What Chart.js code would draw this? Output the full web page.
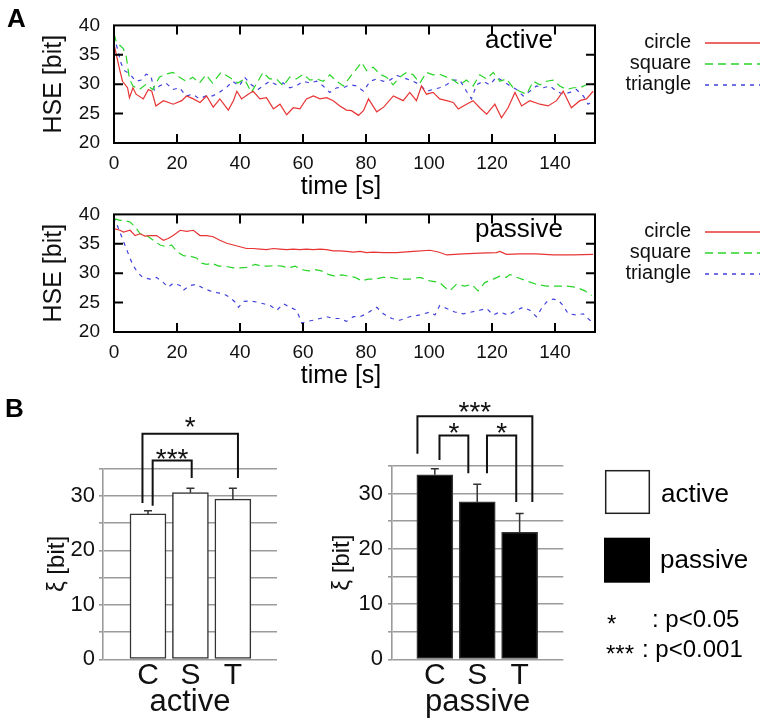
<!DOCTYPE html>
<html>
<head>
<meta charset="utf-8">
<script src="https://cdn.jsdelivr.net/npm/chart.js"></script>
<style>
  body { margin: 0; background: #fff; }
  #wrap { position: relative; width: 766px; height: 722px; overflow: hidden; }
  canvas { position: absolute; }
</style>
</head>
<body>
<div id="wrap">
  <canvas id="activeLine" width="766" height="200" style="left:0;top:0;width:766px;height:200px"></canvas>
  <canvas id="passiveLine" width="766" height="200" style="left:0;top:189px;width:766px;height:200px"></canvas>
  <canvas id="activeBar" width="300" height="342" style="left:0;top:380px;width:300px;height:342px"></canvas>
  <canvas id="passiveBar" width="466" height="342" style="left:300px;top:380px;width:466px;height:342px"></canvas>
</div>
<script>
  const FONT = '"Liberation Sans", Arial, sans-serif';
  Chart.defaults.font.family = FONT;
  Chart.defaults.color = '#111';

  // ---- panel A: HSE over time, [time s, HSE bit] ----
  const seriesNames = ['circle', 'square', 'triangle'];

  const activeCircle = [[0,36.8],[1.7,32.7],[2.7,30.5],[4.3,29.4],[4.9,27.7],[6,29.4],[7,28.3],[9.3,27.5],[10.9,29.1],[12,28.8],[13.3,26.3],[15.7,27.2],[18.8,26.6],[21.5,27.2],[23,28.0],[25.2,27.5],[27.3,26.9],[29.4,28.0],[31.5,26.1],[33.6,27.5],[36.3,25.6],[37.9,27.2],[39,28.8],[40.5,27.5],[42.6,28.3],[44.2,28.8],[46.3,27.5],[48.4,27.7],[50.6,25.8],[52.7,26.6],[54.8,24.8],[56.9,26.0],[59,25.8],[61.1,27.5],[63.3,28.0],[65.4,27.5],[67.5,27.7],[69.6,27.2],[71.7,26.3],[73.8,25.6],[75.4,25.5],[77.6,24.7],[79.2,25.5],[80.8,27.5],[83.4,25.3],[85.6,26.1],[88.7,28.0],[91.8,27.2],[93.9,28.6],[96,27.2],[97.6,29.7],[99.2,28.3],[101.3,28.6],[103.4,27.5],[105.6,27.2],[107.7,26.9],[109.3,25.8],[111.9,26.6],[114,27.2],[116.1,26.0],[118.3,24.9],[120.9,26.6],[123,24.3],[125.1,26.0],[127.3,28.6],[129.4,26.3],[132,27.2],[135.2,26.6],[137.8,26.3],[140.5,27.2],[142.6,28.8],[145.2,26.0],[147.9,27.2],[150,27.5],[152.1,28.8]];
  const activeSquare = [[0,38.6],[0.8,37.1],[2.9,36.1],[3.9,34.7],[4.9,30.9],[6,29.7],[8.1,29.1],[10.2,30.0],[12.3,29.1],[14.4,31.2],[16.5,31.7],[18.7,32.0],[20.8,31.2],[22.9,30.5],[25,31.2],[27.1,30.2],[29.2,31.6],[31.3,30.2],[34,32.0],[36.6,31.2],[39.3,30.2],[41.4,30.9],[43.6,28.6],[45.7,30.5],[47.3,32.0],[49.4,30.9],[51.6,30.9],[53.7,29.7],[55.8,31.2],[57.9,30.9],[60.1,31.7],[62.2,30.7],[64.3,30.9],[66.4,30.5],[68.5,31.6],[70.7,30.5],[72.8,29.7],[74.9,31.2],[77,32.6],[78.6,33.7],[80.2,32.3],[82.3,32.9],[84.4,31.7],[86.5,31.2],[88.6,29.9],[90.7,31.2],[92.9,32.0],[95,31.6],[97.1,30.2],[99.2,32.0],[101.3,31.6],[103.4,31.7],[105.6,31.2],[107.7,30.7],[109.8,29.9],[111.9,30.7],[114,29.7],[116.1,31.6],[118.3,30.9],[120.4,32.0],[122.5,30.5],[124.6,30.9],[126.7,29.4],[128.8,28.8],[131,28.3],[133.1,30.5],[135.2,29.9],[137.3,30.5],[139.4,30.7],[141.5,29.7],[143.7,29.1],[145.8,29.4],[147.9,29.4],[150,29.9],[152.1,30.2]];
  const activeTriangle = [[0,38.2],[1.2,35.8],[2.2,33.6],[3.3,32.3],[4.9,31.8],[7,30.5],[8.6,30.7],[10.2,31.7],[11.7,31.4],[12.8,29.0],[14.4,29.7],[16.5,30.2],[18.7,29.1],[20.8,29.4],[22.9,28.0],[25,28.3],[27.1,27.5],[29.2,28.0],[31.3,28.0],[33.4,28.6],[35.6,29.4],[37.7,30.5],[39.8,29.7],[41.4,31.2],[43.6,29.9],[45.7,29.1],[47.3,29.7],[49.4,30.5],[51.6,29.9],[53.7,30.2],[55.8,29.4],[57.9,29.7],[60.1,30.5],[62.2,30.2],[64.3,30.5],[66.4,29.7],[68.5,28.6],[70.7,29.4],[72.8,29.4],[74.9,29.9],[77,29.7],[79.2,28.8],[81.3,30.5],[83.4,30.9],[85.5,30.5],[87.6,30.7],[89.8,31.5],[92.9,30.9],[95,30.5],[97.1,29.9],[99.2,28.8],[101.3,29.1],[103.4,29.4],[105.6,29.9],[107.7,30.7],[109.8,30.7],[111.9,28.8],[113.5,27.5],[115.1,29.9],[117.2,30.5],[119.3,29.9],[121.4,31.2],[123.6,30.5],[125.7,29.7],[127.8,29.1],[129.9,28.0],[132,28.8],[134.1,29.7],[136.3,29.4],[138.4,29.7],[140.5,28.8],[142.6,28.3],[144.7,28.6],[146.8,29.1],[149,28.0],[150.5,26.6],[152.1,27.2]];

  const passiveCircle = [[0,37.6],[1.9,37.3],[3,37.0],[5.1,37.3],[6.7,36.4],[8.3,36.7],[9.8,36.3],[11.4,36.4],[13.5,36.4],[15.7,35.6],[17.2,35.9],[18.8,36.4],[21,37.3],[23.1,37.1],[25.2,37.3],[27.3,36.4],[29.4,36.4],[31.5,36.2],[33.6,35.6],[35.8,35.1],[37.9,34.8],[40,34.5],[42.1,34.2],[44.2,34.2],[46.3,34.1],[48.4,34.0],[50.6,34.2],[52.7,34.1],[54.8,34.0],[56.9,34.1],[59,34.0],[61.1,34.1],[63.3,34.0],[65.4,34.1],[67.5,34.0],[69.6,33.8],[71.7,33.8],[73.8,33.7],[76,33.6],[78.1,33.7],[80.2,33.5],[82.3,33.6],[85.5,33.5],[89.7,33.5],[95,33.7],[100.3,33.9],[103,33.6],[105.6,33.1],[110.9,33.3],[116.1,33.4],[121.4,33.5],[122.5,33.7],[124.6,33.2],[128.8,33.3],[134.1,33.3],[139.4,33.1],[145.8,33.1],[152.1,33.2]];
  const passiveSquare = [[0,39.3],[1.9,39.0],[3,39.0],[5.1,38.7],[6.7,37.9],[8.3,36.7],[10.4,36.4],[12.5,35.6],[14.6,34.8],[16.7,34.5],[18.3,34.8],[19.9,33.7],[22,33.0],[24.1,32.9],[26.2,32.6],[27.8,31.7],[29.4,31.5],[31.1,31.7],[33.2,31.2],[35.2,31.2],[37.9,30.9],[40,30.9],[42.1,31.0],[44.8,31.5],[46.9,31.2],[49,31.2],[51.1,31.3],[53.3,31.2],[55.4,30.9],[57.5,31.2],[59.6,30.6],[61.7,30.4],[63.8,30.6],[65.9,30.4],[68,29.8],[70.1,29.5],[72.3,29.7],[74.4,29.5],[76.5,29.3],[78.6,28.7],[80.7,29.0],[82.8,29.0],[85.4,29.3],[87.6,29.3],[90.7,29.0],[93.9,29.0],[97.1,29.3],[100.3,28.7],[103.4,28.4],[105,27.6],[106.6,27.0],[108.7,28.1],[111.4,27.8],[113.5,28.1],[115.6,27.0],[117.7,28.4],[120.4,29.0],[122.5,29.5],[124.6,29.3],[125.7,29.8],[127.8,29.3],[131,28.7],[134.1,28.1],[137.3,27.8],[140.5,27.8],[143.7,27.8],[146.8,27.6],[149.5,27.0],[151.6,26.2]];
  const passiveTriangle = [[0,39.6],[1.2,37.9],[2.8,35.7],[4.4,33.5],[5.9,31.5],[7.5,30.1],[9.1,29.3],[11.4,29.0],[13.5,29.3],[15.7,28.4],[17.2,27.6],[18.8,28.3],[21,27.9],[22,27.1],[24.1,27.9],[26.2,28.1],[28.4,27.4],[30.5,27.0],[32.6,26.7],[34.7,26.5],[36.8,25.9],[38.4,25.1],[39.5,24.2],[41.1,25.2],[43.2,25.3],[45.3,25.1],[47.5,24.8],[49.6,24.5],[51.7,23.7],[53.8,24.8],[55.9,24.2],[58,23.7],[59.6,21.5],[61.2,21.8],[63.3,22.0],[65.4,22.3],[67.5,22.6],[69.6,22.3],[71.7,22.3],[73.8,21.8],[76,22.6],[78.1,22.6],[80.2,23.1],[81.8,23.7],[83.4,24.2],[85.5,23.1],[88.2,22.3],[90.7,22.0],[93.9,22.6],[97.1,22.9],[100.3,23.4],[101.9,22.9],[103.4,24.5],[105.6,24.0],[108.2,23.4],[110.9,23.1],[113.5,23.4],[116.1,23.7],[118.3,24.0],[120.4,22.9],[122.5,23.4],[125.1,22.9],[127.8,23.7],[129.9,24.2],[132,23.7],[134.1,22.6],[135.7,24.0],[137.3,25.1],[139.4,25.6],[141,25.4],[142.6,24.5],[144.2,23.1],[146.8,22.9],[149,23.1],[150.5,22.3],[152.1,21.5]];

  // ---- panel B: mean xi with upper error, per shape ----
  const barCats = ['C', 'S', 'T'];
  const groupNames = ['active', 'passive'];
  const activeMean = [26.7, 30.6, 29.4];
  const activeErr = [0.6, 0.8, 2.0];
  const passiveMean = [33.4, 28.5, 23.0];
  const passiveErr = [1.1, 3.2, 3.4];
  // significance brackets: [from, to, top, leftEnd, rightEnd, labelY, label]
  const activeSig = [
    [0.11, 1.03, 36.5, 28.2, 33.3, 38.0, '***'],
    [-0.13, 2.12, 41.4, 28.7, 33.3, 44.0, '*']
  ];
  const passiveSig = [
    [-0.41, 2.30, 44.0, 37.2, 28.5, 46.0, '***'],
    [0.11, 0.79, 40.5, 36.1, 33.7, 42.3, '*'],
    [1.23, 1.92, 40.5, 33.7, 28.5, 42.3, '*']
  ];

  const lineColors = ['rgb(232,52,52)', 'rgb(40,212,40)', 'rgb(64,64,222)'];
  const lineDashes = [[], [8, 5], [4, 5]];

  const lineFrame = {
    id: 'lineFrame',
    afterDraw(chart, args, opts) {
      const { ctx, chartArea: a, scales: { x, y } } = chart;
      ctx.save();
      ctx.strokeStyle = '#000';
      ctx.lineWidth = 2;
      ctx.strokeRect(a.left, a.top, a.width, a.height);
      ctx.beginPath();
      x.ticks.forEach(t => {
        if (t.value <= x.min || t.value >= x.max) return;
        const px = x.getPixelForValue(t.value);
        ctx.moveTo(px, a.bottom); ctx.lineTo(px, a.bottom - 9);
        ctx.moveTo(px, a.top); ctx.lineTo(px, a.top + 9);
      });
      y.ticks.forEach(t => {
        if (t.value <= y.min || t.value >= y.max) return;
        const py = y.getPixelForValue(t.value);
        ctx.moveTo(a.left, py); ctx.lineTo(a.left + 9, py);
        ctx.moveTo(a.right, py); ctx.lineTo(a.right - 9, py);
      });
      ctx.stroke();

      ctx.fillStyle = '#000';
      ctx.textAlign = 'center';
      ctx.textBaseline = 'alphabetic';
      ctx.font = '26px ' + FONT;
      ctx.fillText(opts.tag, 519, 48);
      ctx.textBaseline = 'middle';
      ctx.font = '25px ' + FONT;
      ctx.fillText('time [s]', 341, 187);

      ctx.font = '20px ' + FONT;
      ctx.textAlign = 'right';
      chart.data.datasets.forEach((ds, i) => {
        const yy = Math.round(42 + i * 20.8);
        ctx.fillStyle = '#111';
        ctx.fillText(ds.label, 691, yy);
        ctx.strokeStyle = ds.borderColor;
        ctx.lineWidth = 1.4;
        ctx.setLineDash(ds.borderDash);
        ctx.beginPath();
        ctx.moveTo(705, yy + 1); ctx.lineTo(760, yy + 1);
        ctx.stroke();
      });
      ctx.setLineDash([]);
      if (opts.letter) {
        ctx.fillStyle = '#000';
        ctx.textAlign = 'left';
        ctx.textBaseline = 'alphabetic';
        ctx.font = 'bold 26px ' + FONT;
        ctx.fillText(opts.letter, 7, 27);
      }
      ctx.restore();
    }
  };

  function lineChart(id, series, tag, letter) {
    return new Chart(document.getElementById(id), {
      type: 'line',
      data: {
        datasets: series.map((s, i) => ({
          label: seriesNames[i],
          data: s.map(p => ({ x: p[0], y: p[1] })),
          borderColor: lineColors[i],
          borderDash: lineDashes[i],
          borderWidth: 1.2,
          pointRadius: 0,
          fill: false,
          tension: 0
        }))
      },
      options: {
        responsive: false,
        animation: false,
        layout: { padding: { top: 23, right: 171, left: 0, bottom: 0 } },
        plugins: {
          legend: { display: false },
          tooltip: { enabled: false },
          lineFrame: { tag: tag, letter: letter }
        },
        scales: {
          x: {
            type: 'linear', min: 0, max: 152.7,
            grid: { display: false, drawTicks: false }, border: { display: false },
            ticks: { stepSize: 20, includeBounds: false, font: { size: 19 }, padding: 9, maxRotation: 0, autoSkip: false },
            afterFit: s => { s.height = 57; }
          },
          y: {
            min: 20, max: 40,
            grid: { display: false, drawTicks: false }, border: { display: false },
            ticks: { stepSize: 5, font: { size: 19 }, padding: 14 },
            title: { display: true, text: 'HSE [bit]', font: { size: 25 }, padding: { top: 39, bottom: 0 } },
            afterFit: s => { s.width = 114; }
          }
        }
      },
      plugins: [lineFrame]
    });
  }

  lineChart('activeLine', [activeCircle, activeSquare, activeTriangle], 'active', 'A');
  lineChart('passiveLine', [passiveCircle, passiveSquare, passiveTriangle], 'passive', null);

  const barExtras = {
    id: 'barExtras',
    afterDatasetsDraw(chart, args, opts) {
      const { ctx, scales: { x, y } } = chart;
      const ds = chart.data.datasets[0];
      ctx.save();
      ctx.strokeStyle = '#333';
      ctx.lineWidth = 1.5;
      ds.data.forEach((d, i) => {
        const px = x.getPixelForValue(d.x);
        const y0 = y.getPixelForValue(d.y);
        const y1 = y.getPixelForValue(d.y + ds.errorBars[i]);
        ctx.beginPath();
        ctx.moveTo(px, y0); ctx.lineTo(px, y1);
        ctx.moveTo(px - 4, y1); ctx.lineTo(px + 4, y1);
        ctx.stroke();
      });

      ctx.strokeStyle = '#111';
      ctx.fillStyle = '#111';
      ctx.lineWidth = 2;
      ctx.textAlign = 'center';
      ctx.textBaseline = 'alphabetic';
      ctx.font = '28px ' + FONT;
      opts.brackets.forEach(b => {
        const x1 = x.getPixelForValue(b[0]), x2 = x.getPixelForValue(b[1]);
        const top = y.getPixelForValue(b[2]);
        ctx.beginPath();
        ctx.moveTo(x1, y.getPixelForValue(b[3]));
        ctx.lineTo(x1, top);
        ctx.lineTo(x2, top);
        ctx.lineTo(x2, y.getPixelForValue(b[4]));
        ctx.stroke();
        ctx.fillText(b[6], (x1 + x2) / 2, y.getPixelForValue(b[5]) + 16);
      });

      if (opts.letter) {
        ctx.textAlign = 'left';
        ctx.font = 'bold 26px ' + FONT;
        ctx.fillStyle = '#000';
        ctx.fillText(opts.letter, 5, 37);
      }

      if (opts.legend) {
        ctx.lineWidth = 1.5;
        ctx.strokeStyle = '#222';
        ctx.fillStyle = '#fff';
        ctx.fillRect(305.7, 90.7, 43.6, 42.6);
        ctx.strokeRect(305.7, 90.7, 43.6, 42.6);
        ctx.fillStyle = '#000';
        ctx.fillRect(304, 157.7, 46, 45);
        ctx.textAlign = 'left';
        ctx.font = '26px ' + FONT;
        ctx.fillText(groupNames[0], 361, 121.7);
        ctx.fillText(groupNames[1], 360, 188);
        ctx.font = '24px ' + FONT;
        ctx.fillText(': p<0.05', 352, 246.6);
        ctx.fillText(': p<0.001', 342, 276.6);
        ctx.fillText('*', 307, 251.5);
        ctx.fillText('***', 306, 281.5);
      }
      ctx.restore();
    }
  };

  function barChart(id, means, errs, sig, fill, group, geo) {
    return new Chart(document.getElementById(id), {
      type: 'bar',
      data: {
        datasets: [{
          label: groupNames[group],
          data: means.map((m, i) => ({ x: i, y: m })),
          errorBars: errs,
          backgroundColor: fill,
          borderColor: '#333',
          borderWidth: 1.5,
          borderSkipped: false,
          barThickness: 36
        }]
      },
      options: {
        responsive: false,
        animation: false,
        layout: { padding: { top: geo.top, right: geo.right, left: 0, bottom: 0 } },
        plugins: {
          legend: { display: false },
          tooltip: { enabled: false },
          barExtras: { brackets: sig, letter: geo.letter, legend: geo.legend }
        },
        scales: {
          x: {
            type: 'linear', min: geo.xmin, max: geo.xmax, offset: false,
            grid: { display: false, offset: false, drawTicks: false }, border: { display: false },
            afterBuildTicks: s => { s.ticks = barCats.map((c, i) => ({ value: i })); },
            ticks: { callback: v => barCats[v], font: { size: 30, lineHeight: 1 }, padding: 1, maxRotation: 0, autoSkip: false },
            title: { display: true, text: groupNames[group], font: { size: 31, lineHeight: 1 }, padding: { top: 0, bottom: 4.5 } },
            afterFit: s => { s.height = 62.7; }
          },
          y: {
            min: 0, max: 35,
            grid: { color: '#9b9b9b', lineWidth: 1.6, tickLength: 4 },
            border: { color: '#9b9b9b', width: 1.6 },
            ticks: { stepSize: 5, autoSkip: false, callback: v => (v % 10 === 0 ? v : ''), font: { size: 22 }, padding: geo.tickPad },
            title: { display: true, text: 'ξ [bit]', font: { size: 24 }, padding: { top: geo.titlePad, bottom: 0 } },
            afterFit: s => { s.width = geo.axisX; }
          }
        }
      },
      plugins: [barExtras]
    });
  }

  barChart('activeBar', activeMean, activeErr, activeSig, '#fff', 0,
    { top: 88.7, right: 23, axisX: 103, xmin: -1.06, xmax: 3.04, tickPad: 4, titlePad: 42.6, letter: 'B', legend: false });
  barChart('passiveBar', passiveMean, passiveErr, passiveSig, '#000', 1,
    { top: 86, right: 202.7, axisX: 92, xmin: -1.01, xmax: 3.03, tickPad: 5, titlePad: 27.6, letter: null, legend: true });
</script>
</body>
</html>
